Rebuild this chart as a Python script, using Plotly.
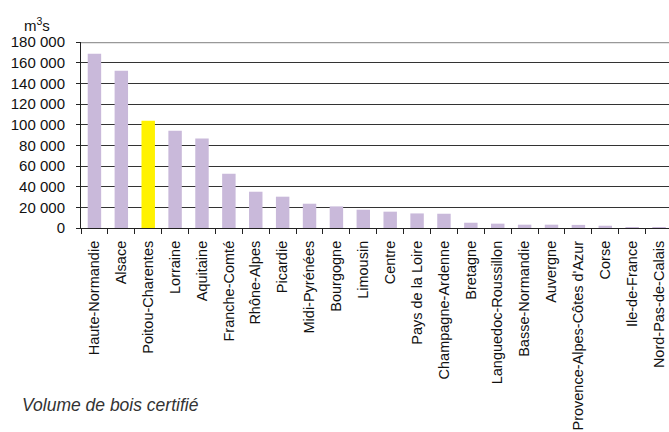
import plotly.graph_objects as go

regions = ["Haute-Normandie", "Alsace", "Poitou-Charentes", "Lorraine", "Aquitaine",
           "Franche-Comté", "Rhône-Alpes", "Picardie", "Midi-Pyrénées", "Bourgogne",
           "Limousin", "Centre", "Pays de la Loire", "Champagne-Ardenne", "Bretagne",
           "Languedoc-Roussillon", "Basse-Normandie", "Auvergne",
           "Provence-Alpes-Côtes d'Azur", "Corse", "Ile-de-France", "Nord-Pas-de-Calais"]
volumes = [168700, 152200, 103800, 94200, 86700, 52500, 35100, 30300, 23500, 20900,
           17700, 15800, 14100, 13800, 5100, 4200, 3200, 3200, 3000, 2200, 800, 300]
highlight = "Poitou-Charentes"
tick_vals = [0, 20000, 40000, 60000, 80000, 100000, 120000, 140000, 160000, 180000]
tick_text = ["0", "20 000", "40 000", "60 000", "80 000", "100 000", "120 000",
             "140 000", "160 000", "180 000"]

colors = ["#FFF200" if r == highlight else "#C9B9DA" for r in regions]

font = "Arial"

fig = go.Figure(go.Bar(x=regions, y=volumes, marker=dict(color=colors, line=dict(width=0)),
                       width=0.5))

fig.update_layout(
    width=669, height=432,
    margin=dict(l=81, r=0, t=42, b=204, autoexpand=False),
    paper_bgcolor="white", plot_bgcolor="white",
    showlegend=False,
    font=dict(family=font, size=15, color="#111"),
    xaxis=dict(
        type="category", range=[-0.5, 21.37], automargin=False,
        tickangle=-90, tickson="boundaries",
        ticks="outside", ticklen=5, tickcolor="#222", tickwidth=1,
        showline=True, linecolor="#222", linewidth=1,
        showgrid=False, tickfont=dict(family=font, size=14.5, color="#111"),
        ticklabelstandoff=6,
    ),
    yaxis=dict(
        range=[0, 180000], tickvals=tick_vals, ticktext=tick_text, automargin=False,
        ticks="outside", ticklen=4, tickcolor="#222",
        showline=True, linecolor="#222", linewidth=1,
        showgrid=True, gridcolor="#333", gridwidth=1,
        zeroline=False, tickfont=dict(family=font, size=15, color="#111"),
        ticklabelstandoff=8,
    ),
    shapes=[dict(type="line", xref="paper", yref="y", x0=0, x1=1, y0=180000, y1=180000,
                 line=dict(color="#999999", width=2.5), layer="above")],
    annotations=[
        dict(text="m<sup>3</sup>s", xref="paper", yref="paper", x=-0.1, y=1.03,
             xanchor="left", yanchor="bottom", showarrow=False,
             font=dict(family=font, size=15, color="#111")),
        dict(text="<i>Volume de bois certifié</i>", xref="paper", yref="paper",
             x=-0.103, y=-0.95, xanchor="left", yanchor="middle", showarrow=False,
             font=dict(family=font, size=17.5, color="#333")),
    ],
)

fig.write_html("out.html", config={"displayModeBar": False},
               post_script="document.body.style.margin='0';document.body.style.padding='0';")
